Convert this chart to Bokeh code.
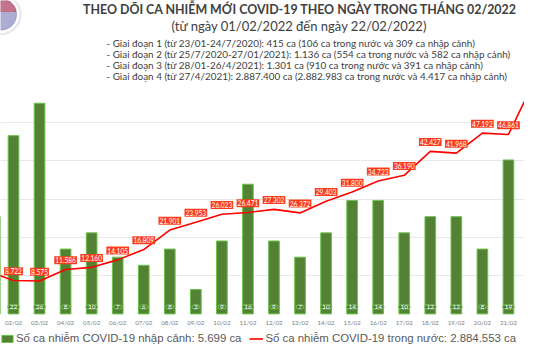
import numpy as np
from bokeh.plotting import figure
from bokeh.models import (Range1d, FixedTicker, Label, Legend, LegendItem,
                          ColumnDataSource, PolyAnnotation)
from bokeh.core.properties import value
from bokeh.embed import file_html
from bokeh.resources import INLINE

# ---------------- data ----------------
dates = ["01/02", "02/02", "03/02", "04/02", "05/02", "06/02", "07/02", "08/02",
         "09/02", "10/02", "11/02", "12/02", "13/02", "14/02", "15/02", "16/02",
         "17/02", "18/02", "19/02", "20/02", "21/02", "22/02"]
imported = [12, 22, 26, 8, 10, 7, 6, 8, 3, 9, 16, 9, 7, 10, 14, 14, 10, 12, 12, 8, 19, 14]
domestic = [11211, 8722, 8575, 11586, 12160, 14105, 16809, 21901, 23953, 26023,
            26471, 27302, 26372, 29403, 31800, 34723, 36190, 42427, 41968, 47192,
            46861, 60900]

title = "THEO DÕI CA NHIỄM MỚI COVID-19 THEO NGÀY TRONG THÁNG 02/2022"
subtitle = "(từ ngày 01/02/2022 đến ngày 22/02/2022)"
notes = [
    "- Giai đoạn 1 (từ 23/01-24/7/2020): 415 ca (106 ca trong nước và 309 ca nhập cảnh)",
    "- Giai đoạn 2 (từ 25/7/2020-27/01/2021): 1.136 ca (554 ca trong nước và 582 ca nhập cảnh)",
    "- Giai đoạn 3 (từ 28/01-26/4/2021): 1.301 ca (910 ca trong nước và 391 ca nhập cảnh)",
    "- Giai đoạn 4 (từ 27/4/2021): 2.887.400 ca (2.882.983 ca trong nước và 4.417 ca nhập cảnh)",
]
legend_imported = "Số ca nhiễm COVID-19 nhập cảnh: 5.699 ca"
legend_domestic = "Số ca nhiễm COVID-19 trong nước: 2.884.553 ca"

idx = list(range(len(dates)))
src = ColumnDataSource(dict(idx=idx, imported=imported, domestic=domestic))

# value / date labels only for the days fully inside the cropped window
# (01/02 and 22/02 lie at the picture's edges)
sl = slice(1, len(dates) - 1)
lbl_src = ColumnDataSource(dict(
    idx=idx[sl],
    imported=imported[sl],
    domestic=domestic[sl],
    dates=dates[sl],
    imp_lbl=[str(v) for v in imported[sl]],
    dom_lbl=[f"{v:,}".replace(",", ".") for v in domestic[sl]],
))

# ---------------- figure ----------------
W, H = 524, 344
FRAME_H = H

p = figure(width=W, height=H, output_backend="svg", toolbar_location=None,
           x_range=Range1d(0.501, 20.616), y_range=Range1d(-7990, 81830),
           x_axis_location=None, y_axis_location=None,
           min_border_left=0, min_border_right=0, min_border_top=0,
           min_border_bottom=0)
p.outline_line_color = None
p.background_fill_color = "white"
p.extra_y_ranges = {"bars": Range1d(-3.777, 38.68)}

p.xgrid.visible = False
p.ygrid.ticker = FixedTicker(ticks=[10000, 20000, 30000, 40000, 50000])
p.ygrid.grid_line_color = "#e8e8e8"
p.ygrid.grid_line_width = 1

bars = p.vbar(x="idx", top="imported", width=0.41, source=src, y_range_name="bars",
              fill_color="#548235", line_color="#6cc24a", line_width=1)

line = p.line("idx", "domestic", source=src, line_color="#ff0000", line_width=1.6)

# bar value boxes
p.text(x="idx", y=0, text="imp_lbl", source=lbl_src, y_range_name="bars",
       y_offset=-7, text_align="center", text_baseline="middle",
       text_color="white", text_font_size="6.5px", text_font=value("Lato"),
       background_fill_color="#4d7a2e", border_line_color="#7cc35a",
       border_radius=2, padding=dict(x=2, y=0))

# line value boxes
p.text(x="idx", y="domestic", text="dom_lbl", source=lbl_src,
       y_offset=-9.3, text_align="center", text_baseline="middle",
       text_color="white", text_font_size="6.6px", text_font=value("Lato"),
       background_fill_color="#fa3c1c", padding=1)

# category (date) labels under the bars
p.text(x="idx", y=0, text="dates", source=lbl_src, y_offset=8.8,
       text_align="center", text_baseline="middle",
       text_color="#808080", text_font_size="6.2px", text_font=value("Lato"))

# ---------------- texts ----------------
def ys(fy):
    return FRAME_H - fy

p.add_layout(Label(x=300, y=ys(8.5), x_units="screen", y_units="screen", text=title,
                   text_align="center", text_baseline="middle", text_font="Lato",
                   text_font_style="bold", text_font_size="12.4px", text_color="#404040"))
p.add_layout(Label(x=299, y=ys(25.7), x_units="screen", y_units="screen", text=subtitle,
                   text_align="center", text_baseline="middle", text_font="Lato",
                   text_font_size="13px", text_color="#404040"))
for k, t in enumerate(notes):
    p.add_layout(Label(x=106, y=ys(42.4 + 11.1 * k), x_units="screen", y_units="screen",
                       text=t, text_align="left", text_baseline="middle",
                       text_font="Lato", text_font_size="9.9px", text_color="#404040"))

# ---------------- logo (decoration) ----------------
cx, cy = 0.5, ys(14)
th = np.linspace(0, 2 * np.pi, 60)
p.add_layout(PolyAnnotation(xs=list(cx + 19.5 * np.cos(th)), ys=list(cy + 19.5 * np.sin(th)),
                            xs_units="screen", ys_units="screen",
                            fill_color="white", line_color="#a8a8c0", line_width=2))
p.add_layout(PolyAnnotation(xs=list(cx + 15.5 * np.cos(th)), ys=list(cy + 15.5 * np.sin(th)),
                            xs_units="screen", ys_units="screen",
                            fill_color="#2e3192", line_color="#2e3192", line_width=1))
a = np.linspace(np.arcsin(3 / 15.5), np.pi - np.arcsin(3 / 15.5), 30)
p.add_layout(PolyAnnotation(xs=list(cx + 15.5 * np.cos(a)), ys=list(cy + 15.5 * np.sin(a)),
                            xs_units="screen", ys_units="screen",
                            fill_color="#e31e24", line_color="#e31e24", line_width=1))

# ---------------- legend ----------------
legend = Legend(items=[LegendItem(label=legend_imported, renderers=[bars]),
                       LegendItem(label=legend_domestic, renderers=[line])],
                orientation="horizontal", location=(0, 0),
                label_text_font="Liberation Sans", label_text_font_size="11.4px",
                label_text_color="#595959", glyph_width=14, glyph_height=9,
                label_height=12, label_standoff=2, spacing=8, padding=0, margin=0,
                border_line_color=None, background_fill_alpha=0)
p.add_layout(legend)

open("out.html", "w").write(file_html(p, INLINE))
